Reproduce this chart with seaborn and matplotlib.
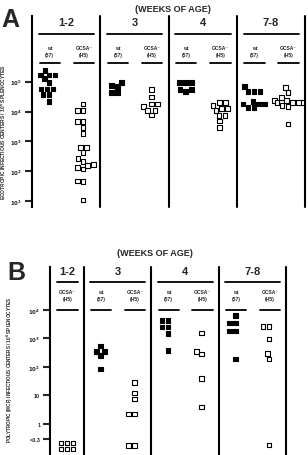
import numpy as np
import pandas as pd
import seaborn as sns
import matplotlib.pyplot as plt

# values are log10(infectious centers / 10^6 splenocytes)
age_groups = ["1-2", "3", "4", "7-8"]

a_wt_1_2 = [5.37, 5.23, 5.23, 5.23, 5.10, 4.97, 4.75, 4.75, 4.75, 4.57, 4.57, 4.33]
a_gcsa_1_2 = [4.25, 4.03, 4.03, 3.67, 3.67, 3.47, 3.27, 2.80, 2.80, 2.63, 2.43,
              2.33, 2.23, 2.20, 2.13, 2.07, 1.67, 1.65, 1.03]
a_wt_3 = [4.97, 4.87, 4.83, 4.63, 4.63]
a_gcsa_3 = [4.73, 4.48, 4.25, 4.25, 4.17, 4.03, 4.03, 3.88]
a_wt_4 = [4.97, 4.97, 4.97, 4.73, 4.73, 4.67]
a_gcsa_4 = [4.30, 4.30, 4.20, 4.10, 4.10, 4.03, 3.87, 3.87, 3.68, 3.47]
a_wt_7_8 = [4.83, 4.67, 4.67, 4.67, 4.33, 4.25, 4.25, 4.25, 4.13, 4.13]
a_gcsa_7_8 = [4.80, 4.63, 4.47, 4.37, 4.37, 4.30, 4.30, 4.30, 4.30, 4.20, 4.17, 3.58]

b_gcsa_1_2 = [-0.67, -0.67, -0.67, -0.88, -0.88, -0.88]
b_wt_3 = [2.73, 2.55, 2.55, 2.40, 1.93]
b_gcsa_3 = [1.46, 1.09, 0.88, 0.35, 0.35, -0.76, -0.76]
b_wt_4 = [3.64, 3.64, 3.41, 3.41, 3.18, 2.57]
b_gcsa_4 = [3.19, 2.55, 2.45, 1.60, 0.60]
b_wt_7_8 = [3.80, 3.54, 3.54, 3.26, 3.26, 2.28]
b_gcsa_7_8 = [3.43, 3.43, 2.98, 2.47, 2.28, -0.74]

a_ticks = [1, 2, 3, 4, 5]
a_ticklabels = ["$10^{1}$", "$10^{2}$", "$10^{3}$", "$10^{4}$", "$10^{5}$"]
b_ticks = [np.log10(0.3), 0, 1, 2, 3, 4]
b_ticklabels = ["<0.3", "1", "10", "$10^{2}$", "$10^{3}$", "$10^{4}$"]

a_columns = [
    ("1-2", "wt", a_wt_1_2), ("1-2", "GCSA", a_gcsa_1_2),
    ("3", "wt", a_wt_3), ("3", "GCSA", a_gcsa_3),
    ("4", "wt", a_wt_4), ("4", "GCSA", a_gcsa_4),
    ("7-8", "wt", a_wt_7_8), ("7-8", "GCSA", a_gcsa_7_8),
]
b_columns = [
    ("1-2", "GCSA", b_gcsa_1_2),
    ("3", "wt", b_wt_3), ("3", "GCSA", b_gcsa_3),
    ("4", "wt", b_wt_4), ("4", "GCSA", b_gcsa_4),
    ("7-8", "wt", b_wt_7_8), ("7-8", "GCSA", b_gcsa_7_8),
]


def to_frame(columns):
    rows = []
    for age, strain, vals in columns:
        for v in vals:
            rows.append({"col": f"{age} {strain}", "strain": strain, "age": age, "value": v})
    return pd.DataFrame(rows)


sns.set_style("white")
plt.rcParams["font.family"] = ["Liberation Sans", "DejaVu Sans"]
plt.rcParams["font.weight"] = "bold"

fig = plt.figure(figsize=(3.08, 4.56), dpi=100)
axA = fig.add_axes([32 / 308, 1 - 208 / 456, 273 / 308, 191 / 456])
axB = fig.add_axes([50 / 308, 0.0, 236 / 308, 188 / 456])

palette = {"wt": "black", "GCSA": "white"}
strain_text = {"wt": "wt\n(57)", "GCSA": "GCSA\u207b\n(H5)"}


def draw_panel(ax, columns, ylim, ticks, ticklabels, ylabel, label_xy, label_size, hdr):
    df = to_frame(columns)
    order = [f"{a} {s}" for a, s, _ in columns]
    sns.swarmplot(data=df, x="col", y="value", hue="strain", order=order,
                  palette=palette, marker="s", size=3.3, edgecolor="black",
                  linewidth=0.8, legend=False, ax=ax)
    n = len(order)
    ax.set_xlim(-0.5, n - 0.5)
    ax.set_ylim(*ylim)
    trans = ax.get_xaxis_transform()

    # panel boundaries per age group
    idx = {}
    for i, (age, _, _) in enumerate(columns):
        idx.setdefault(age, []).append(i)
    text_y, long_y, lab_y, short_y = hdr
    for age in age_groups:
        cols = idx[age]
        lo, hi = cols[0] - 0.5, cols[-1] + 0.5
        ax.axvline(hi, color="black", lw=1.5, clip_on=False)
        ax.text((lo + hi) / 2, text_y, age, transform=trans, ha="center",
                va="center", fontsize=8, fontweight="bold")
        ax.plot([lo + 0.2, hi - 0.18], [long_y, long_y], color="black",
                lw=1.3, transform=trans, clip_on=False)
        for i in cols:
            strain = columns[i][1]
            ax.text(i + 0.02, lab_y, strain_text[strain], transform=trans,
                    ha="center", va="center", fontsize=3.6, fontweight="bold",
                    linespacing=1.3)
            ax.plot([i - 0.28, i + 0.32], [short_y, short_y], color="black",
                    lw=1.3, transform=trans, clip_on=False)

    ax.set_yticks(ticks)
    ax.set_yticklabels(ticklabels, fontsize=4)
    ax.tick_params(axis="y", length=5, width=1.5, direction="out", pad=2, left=True)
    ax.set_xticks([])
    ax.set_xlabel("")
    ax.set_ylabel(ylabel, fontsize=label_size, fontweight="bold")
    ax.yaxis.set_label_coords(*label_xy)
    for side in ["top", "right", "bottom"]:
        ax.spines[side].set_visible(False)
    ax.spines["left"].set_linewidth(1.5)
    ax.spines["left"].set_color("black")


draw_panel(axA, a_columns, (0.8, 7.2), a_ticks, a_ticklabels,
           "ECOTROPIC INFECTIOUS CENTERS / 10$^{6}$ SPLENOCYTES",
           (-0.088, 0.40), 3.5, (0.969, 0.906, 0.817, 0.754))
draw_panel(axB, b_columns, (-1.09, 5.51), b_ticks, b_ticklabels,
           "POLYTROPIC (MCF) INFECTIOUS CENTERS / 10$^{6}$ SPLENOCYTES",
           (-0.15, 0.46), 3.3, (0.979, 0.92, 0.851, 0.771))

fig.text(173 / 308, 1 - 9 / 456, "(WEEKS OF AGE)", ha="center", va="center",
         fontsize=6.5, fontweight="bold")
fig.text(155 / 308, 1 - 253 / 456, "(WEEKS OF AGE)", ha="center", va="center",
         fontsize=6.5, fontweight="bold")
fig.text(10 / 308, 1 - 20 / 456, "A", ha="center", va="center", fontsize=18,
         fontweight="bold")
fig.text(16 / 308, 1 - 273 / 456, "B", ha="center", va="center", fontsize=18,
         fontweight="bold")

fig.savefig("out.png", dpi=100)
